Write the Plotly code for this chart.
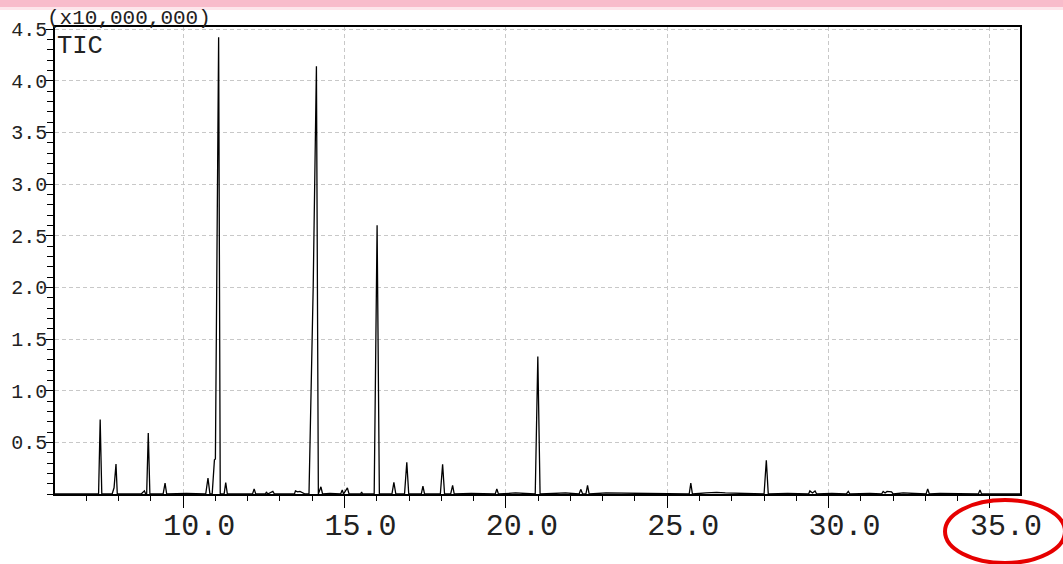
import plotly.graph_objects as go

# Retention time (min) and TIC intensity (x10,000,000)
rt = [6.03, 7.30, 7.38, 7.43, 7.48, 7.80, 7.86, 7.92, 7.96,
      8.70, 8.80, 8.84, 8.87, 8.92, 8.97, 9.38, 9.44, 9.49, 10.10,
      10.70, 10.77, 10.83, 10.90, 10.97, 11.00, 11.10, 11.15,
      11.27, 11.32, 11.37, 12.15, 12.20, 12.25, 12.55, 12.58, 12.62, 12.78, 12.83,
      13.45, 13.48, 13.55, 13.62, 13.70, 13.78,
      13.90, 14.03, 14.13, 14.15, 14.19, 14.27, 14.32, 14.55,
      14.88, 14.93, 14.97, 15.09, 15.14, 15.50, 15.53, 15.56,
      15.92, 16.01, 16.08, 16.47, 16.53, 16.59, 16.86, 16.93, 16.99,
      17.38, 17.43, 17.48, 17.97, 18.04, 18.10, 18.29, 18.35, 18.40, 18.93,
      19.67, 19.72, 19.77, 20.10, 20.30, 20.91, 20.99, 21.06,
      21.70, 21.85, 22.27, 22.32, 22.38, 22.48, 22.53, 22.58, 23.10,
      24.30, 25.10, 25.68, 25.73, 25.78, 26.20, 26.53, 26.80, 27.50, 27.75,
      28.00, 28.07, 28.13, 28.73, 29.01, 29.38, 29.42, 29.50, 29.58, 29.63,
      30.10, 30.55, 30.61, 30.66, 31.28, 31.64, 31.69, 31.75, 31.81, 31.95, 32.00, 32.31,
      33.02, 33.07, 33.12, 33.45, 34.64, 34.69, 34.74, 35.70, 35.93]
tic = [0.0, 0.0, 0.0, 0.72, 0.0, 0.0, 0.06, 0.29, 0.0,
       0.0, 0.03, 0.0, 0.0, 0.59, 0.0, 0.0, 0.106, 0.0, 0.005,
       0.0, 0.155, 0.0, 0.0, 0.33, 0.34, 4.42, 0.0,
       0.0, 0.11, 0.0, 0.0, 0.05, 0.0, 0.0, 0.02, 0.0, 0.025, 0.0,
       0.0, 0.03, 0.02, 0.025, 0.01, 0.0,
       0.0, 2.0, 4.14, 2.0, 0.0, 0.07, 0.0, 0.005,
       0.0, 0.04, 0.0, 0.06, 0.0, 0.0, 0.02, 0.0,
       0.0, 2.60, 0.0, 0.0, 0.113, 0.0, 0.0, 0.307, 0.0,
       0.0, 0.077, 0.0, 0.0, 0.287, 0.0, 0.0, 0.084, 0.0, 0.005,
       0.0, 0.048, 0.0, 0.01, 0.01, 0.0, 1.33, 0.0,
       0.01, 0.01, 0.0, 0.045, 0.0, 0.0, 0.084, 0.0, 0.01,
       0.005, 0.005, 0.0, 0.106, 0.0, 0.01, 0.015, 0.01, 0.005, 0.005,
       0.0, 0.326, 0.0, 0.005, 0.005, 0.0, 0.03, 0.01, 0.03, 0.0,
       0.005, 0.0, 0.026, 0.0, 0.005, 0.0, 0.025, 0.01, 0.025, 0.02, 0.0, 0.01,
       0.0, 0.05, 0.0, 0.005, 0.0, 0.04, 0.0, 0.005, 0.0]

x_ticks = [10.0, 15.0, 20.0, 25.0, 30.0, 35.0]
x_labels = ["10.0", "15.0", "20.0", "25.0", "30.0", "35.0"]
y_ticks = [0.5, 1.0, 1.5, 2.0, 2.5, 3.0, 3.5, 4.0, 4.5]
y_labels = ["0.5", "1.0", "1.5", "2.0", "2.5", "3.0", "3.5", "4.0", "4.5"]

FONT = "Liberation Mono"

fig = go.Figure()
fig.add_trace(go.Scatter(x=rt, y=tic, mode="lines",
                         line=dict(color="black", width=1.3),
                         hoverinfo="skip", showlegend=False))

fig.update_layout(
    width=1063, height=564,
    margin=dict(l=55, r=43, t=27, b=70, autoexpand=False),
    paper_bgcolor="white", plot_bgcolor="white",
    font=dict(family=FONT, color="#222"),
)

fig.update_xaxes(
    range=[6.03, 35.93], automargin=False,
    tickmode="array", tickvals=x_ticks, ticktext=x_labels,
    ticks="outside", ticklen=12, tickcolor="black", tickwidth=1,
    tickfont=dict(family=FONT, size=30, color="#222"),
    ticklabelshift=16, ticklabelstandoff=-9,
    showline=True, linecolor="black", linewidth=1.5, mirror=True,
    showgrid=True, gridcolor="#c8c8c8", gridwidth=1, griddash="4px,3px",
    zeroline=False,
    minor=dict(dtick=1, tick0=0, ticks="outside", ticklen=5,
               tickcolor="black", showgrid=False),
)

fig.update_yaxes(
    range=[0, 4.52], automargin=False,
    tickmode="array", tickvals=y_ticks, ticktext=y_labels,
    ticks="outside", ticklen=7, tickcolor="black", tickwidth=1,
    tickfont=dict(family=FONT, size=20, color="#222"),
    ticklabelstandoff=-5,
    showline=True, linecolor="black", linewidth=1.5, mirror=True,
    showgrid=True, gridcolor="#c8c8c8", gridwidth=1, griddash="4px,3px",
    zeroline=False,
    minor=dict(dtick=0.1, tick0=0, ticks="outside", ticklen=6,
               tickcolor="black", showgrid=False),
)

fig.add_annotation(text="(x10,000,000)", xref="paper", yref="paper",
                   x=-0.0104, y=1, xanchor="left", yanchor="bottom",
                   yshift=-5, showarrow=False,
                   font=dict(family=FONT, size=21, color="#222"))
fig.add_annotation(text="TIC", xref="paper", yref="paper",
                   x=0.0, y=1, xanchor="left", yanchor="top",
                   yshift=-3, showarrow=False,
                   font=dict(family=FONT, size=25.5, color="#222"))

# pink band at the top of the screenshot
fig.add_shape(type="rect", xref="paper", yref="paper",
              x0=-0.06, x1=1.05, y0=1 + 20 / 467, y1=1 + 28 / 467,
              fillcolor="#f8bccb", line=dict(width=0), layer="below")
fig.add_shape(type="rect", xref="paper", yref="paper",
              x0=-0.06, x1=1.05, y0=1 + 17 / 467, y1=1 + 20 / 467,
              fillcolor="#fde6eb", line=dict(width=0), layer="below")

# red ellipse marking the 35.0 label
fig.add_shape(type="circle", xref="paper", yref="paper",
              x0=0.9223, x1=1.0466, y0=-0.1478, y1=-0.0128,
              line=dict(color="#e60000", width=4))

fig.write_html("out.html",
               config={"displayModeBar": False},
               post_script="document.body.style.margin='0';")
